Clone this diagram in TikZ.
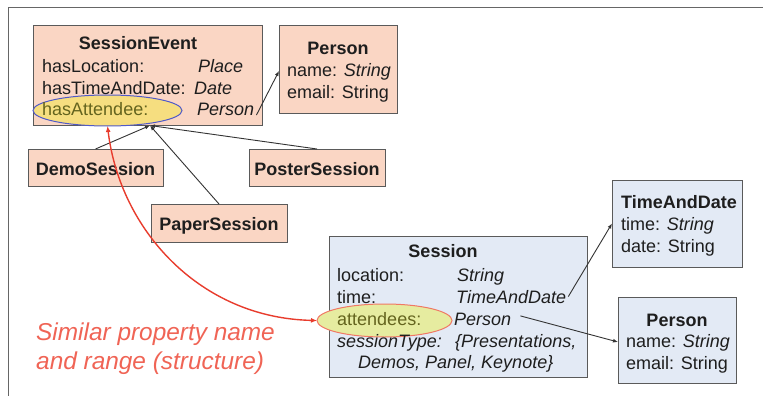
\documentclass[tikz,border=0pt]{standalone}
\usepackage{fontspec}
\setmainfont{Liberation Sans}
\usetikzlibrary{arrows.meta,shapes.geometric,calc}
\definecolor{peach}{RGB}{250,214,196}
\definecolor{lblue}{RGB}{227,234,245}
\definecolor{boxline}{RGB}{90,90,90}
\definecolor{redline}{RGB}{232,60,45}
\definecolor{redtext}{RGB}{240,100,85}
\definecolor{yfill}{RGB}{246,222,128}
\definecolor{gfill}{RGB}{230,236,160}
\definecolor{ellblue}{RGB}{80,90,200}
\definecolor{ellred}{RGB}{240,120,100}
\definecolor{olive}{RGB}{100,100,30}
\definecolor{ink}{RGB}{30,30,30}
\begin{document}
\begin{tikzpicture}[x=1pt,y=-1pt,
  box/.style={draw=boxline, line width=1pt, inner sep=0, outer sep=0},
  pbox/.style={box, fill=peach},
  bbox/.style={box, fill=lblue},
  txt/.style={anchor=base west, inner sep=0, text=ink, font=\fontsize{18}{21}\selectfont},
  itxt/.style={txt, font=\fontsize{18}{21}\selectfont\itshape},
  ttl/.style={anchor=base, inner sep=0, text=ink, font=\fontsize{18}{21}\selectfont\bfseries},
  conn/.style={draw=black!80, line width=0.9pt, -{Latex[length=5pt,width=4pt]}},
  ell/.style={ellipse, line width=1pt, inner sep=0, outer sep=0},
  note/.style={anchor=base west, inner sep=0, text=redtext, font=\fontsize{24.4}{28}\selectfont\itshape},
]
\useasboundingbox (0,0) rectangle (763,396);
\fill[white] (0,0) rectangle (763,396);
\draw[gray!80!black, line width=1.5pt] (763,7.5) -- (8.5,7.5) -- (8.5,396);

% boxes
\node[pbox, minimum width=229, minimum height=99.5] (se) at (147.5,75.25) {};
\node[pbox, minimum width=118, minimum height=87] (p1) at (338,69.5) {};
\node[pbox, minimum width=135, minimum height=37] (demo) at (95.5,167.5) {};
\node[pbox, minimum width=136, minimum height=37] (poster) at (317,167.5) {};
\node[pbox, minimum width=136, minimum height=38] (paper) at (219,223) {};
\node[bbox, minimum width=258, minimum height=141] (ses) at (458,306.5) {};
\node[bbox, minimum width=130, minimum height=87] (tad) at (677,223.5) {};
\node[bbox, minimum width=118, minimum height=86] (p2) at (677,340) {};

% highlight ellipses
\node[ell, draw=ellblue, fill=yfill, minimum width=149, minimum height=31] (ea) at (107.5,110.5) {};
\node[ell, draw=ellred, fill=gfill, minimum width=135, minimum height=33] (eb) at (384.5,320.5) {};

% SessionEvent
\node[ttl] (setitle) at (138,49.5) {SessionEvent};
\node[txt] (sk1) at (42,73) {hasLocation:};
\node[itxt] (sv1) at (198,73) {Place};
\node[txt] (sk2) at (42,94.5) {hasTimeAndDate:};
\node[itxt] (sv2) at (194,94.5) {Date};
\node[txt, text=olive] (sk3) at (42,115.7) {hasAttendee:};
\node[itxt] (sv3) at (197,115.7) {Person};

% Person (top)
\node[ttl] (p1title) at (338,55) {Person};
\node[txt] (p1a) at (287,77) {name: \textit{String}};
\node[txt] (p1b) at (287,99) {email: String};

% subclasses
\node[ttl] (demot) at (95.5,175) {DemoSession};
\node[ttl] (postert) at (317,175) {PosterSession};
\node[ttl] (papert) at (219,230) {PaperSession};

% Session
\node[ttl] (sestitle) at (443,257) {Session};
\node[txt] (ak1) at (337,281) {location:};
\node[itxt] (av1) at (457,281) {String};
\node[txt] (ak2) at (337,303) {time:};
\node[itxt] (av2) at (456,303) {TimeAndDate};
\node[txt, text=olive] (ak3) at (337,325) {attendees:};
\node[itxt] (av3) at (454,325) {Person};
\node[itxt] (ak4) at (337,347) {sessionType:};
\node[itxt] (av4) at (455,347) {\{Presentations,};
\node[itxt] (av5) at (358,368) {Demos, Panel, Keynote\}};

% TimeAndDate
\node[ttl] (tadtitle) at (679,208) {TimeAndDate};
\node[txt] (tada) at (621,230) {time: \textit{String}};
\node[txt] (tadb) at (621,252) {date: String};

% Person (bottom)
\node[ttl] (p2title) at (677,326) {Person};
\node[txt] (p2a) at (626,347) {name: \textit{String}};
\node[txt] (p2b) at (626,369) {email: String};

% note
\node[note] (note1) at (36,340) {Similar property name};
\node[note] (note2) at (36,369) {and range (structure)};

% connectors
\coordinate (setip) at (150,125.5);
\draw[conn] (demo.north) -- (setip);
\draw[conn] (paper.north) -- (setip);
\draw[conn] (poster.north) -- (setip);
\draw[conn] ($(sv3.south east)+(2,-1)$) -- ($(p1.west)+(0,1.5)$);
\draw[conn] ($(av2.east)+(2,0)$) -- (tad.west);
\draw[conn] ($(av3.east)+(9,-3)$) -- ($(p2.west)+(0,2)$);

\draw[redline, line width=1.4pt, {Latex[length=6pt,width=5pt]}-{Latex[length=6pt,width=5pt]}]
  (ea.south) .. controls (120,230) and (200,318) .. (eb.west);
\end{tikzpicture}
\end{document}
